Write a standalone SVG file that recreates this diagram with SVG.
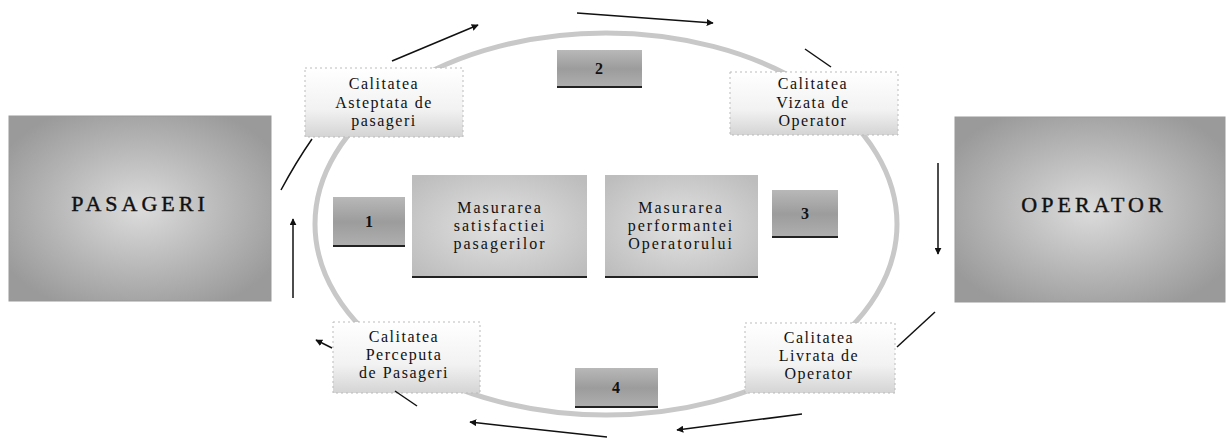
<svg xmlns="http://www.w3.org/2000/svg" width="1227" height="441" viewBox="0 0 1227 441">
<defs>
<radialGradient id="bigG" cx="50%" cy="50%" r="60%">
<stop offset="0" stop-color="#dcdcdc"/>
<stop offset="0.6" stop-color="#b4b4b4"/>
<stop offset="1" stop-color="#9a9a9a"/>
</radialGradient>
<radialGradient id="midG" cx="50%" cy="50%" r="65%">
<stop offset="0" stop-color="#e2e2e2"/>
<stop offset="1" stop-color="#bdbdbd"/>
</radialGradient>
<linearGradient id="numG" x1="0" y1="0" x2="0" y2="1">
<stop offset="0" stop-color="#b8b8b8"/>
<stop offset="0.5" stop-color="#9c9c9c"/>
<stop offset="1" stop-color="#b0b0b0"/>
</linearGradient>
<linearGradient id="labG" x1="0" y1="0" x2="0" y2="1">
<stop offset="0" stop-color="#ffffff"/>
<stop offset="0.6" stop-color="#f2f2f2"/>
<stop offset="1" stop-color="#d4d4d4"/>
</linearGradient>
<marker id="ah" viewBox="0 0 10 10" refX="9" refY="5" markerWidth="7" markerHeight="7" orient="auto" markerUnits="userSpaceOnUse">
<path d="M0,0 L10,5 L0,10 z" fill="#111"/>
</marker>
</defs>
<style>
.big{fill:url(#bigG);stroke:#999;stroke-width:1}
.mid{fill:url(#midG)}
.num{fill:url(#numG)}
.lab{fill:url(#labG);stroke:#bbb;stroke-width:1;stroke-dasharray:2 3}
.ul{stroke:#222;stroke-width:2}
.t{font-family:"Liberation Serif","Times New Roman",serif;fill:#111;text-anchor:middle}
.bt{font-size:22px;letter-spacing:4px;stroke:#111;stroke-width:0.4}
.lt{font-size:16px;letter-spacing:1.5px}
.mt{font-size:16px;letter-spacing:2px}
.nt{font-size:16px;font-weight:bold}
.c{stroke:#111;stroke-width:1.5;fill:none}
</style>
<ellipse id="ring" cx="606" cy="224" rx="291" ry="191" fill="none" stroke="#c8c8c8" stroke-width="5"/>
<g id="pasageri">
<rect class="big" x="9" y="116" width="262" height="185"/>
<text class="t bt" x="140" y="211">PASAGERI</text>
</g>
<g id="operator">
<rect class="big" x="955" y="117" width="270" height="185"/>
<text class="t bt" x="1094" y="212">OPERATOR</text>
</g>
<g id="asteptata">
<rect class="lab" x="305" y="68" width="158" height="69"/>
<text class="t lt" x="384" y="89">Calitatea</text>
<text class="t lt" x="384" y="108">Asteptata de</text>
<text class="t lt" x="384" y="126">pasageri</text>
</g>
<g id="vizata">
<rect class="lab" x="730" y="72" width="168" height="63"/>
<text class="t lt" x="813" y="89">Calitatea</text>
<text class="t lt" x="813" y="108">Vizata de</text>
<text class="t lt" x="813" y="126">Operator</text>
</g>
<g id="perceputa">
<rect class="lab" x="333" y="322" width="147" height="71"/>
<text class="t lt" x="404" y="342">Calitatea</text>
<text class="t lt" x="404" y="360">Perceputa</text>
<text class="t lt" x="404" y="378">de Pasageri</text>
</g>
<g id="livrata">
<rect class="lab" x="745" y="323" width="150" height="70"/>
<text class="t lt" x="819" y="343">Calitatea</text>
<text class="t lt" x="819" y="361">Livrata de</text>
<text class="t lt" x="819" y="379">Operator</text>
</g>
<g id="satisfactie">
<rect class="mid" x="412" y="175" width="175" height="103"/>
<line class="ul" x1="412" y1="277" x2="587" y2="277" stroke-width="1.5"/>
<text class="t mt" x="500" y="213">Masurarea</text>
<text class="t mt" x="500" y="231">satisfactiei</text>
<text class="t mt" x="500" y="249">pasagerilor</text>
</g>
<g id="performanta">
<rect class="mid" x="605" y="175" width="153" height="103"/>
<line class="ul" x1="605" y1="277" x2="758" y2="277" stroke-width="1.5"/>
<text class="t mt" x="681" y="213">Masurarea</text>
<text class="t mt" x="681" y="231">performantei</text>
<text class="t mt" x="681" y="249">Operatorului</text>
</g>
<g id="n1">
<rect class="num" x="333" y="197" width="72" height="50"/>
<line class="ul" x1="333" y1="246" x2="405" y2="246"/>
<text class="t nt" x="369" y="227">1</text>
</g>
<g id="n2">
<rect class="num" x="557" y="50" width="85" height="38"/>
<line class="ul" x1="557" y1="87" x2="642" y2="87"/>
<text class="t nt" x="599" y="74">2</text>
</g>
<g id="n3">
<rect class="num" x="772" y="190" width="66" height="48"/>
<line class="ul" x1="772" y1="237" x2="838" y2="237"/>
<text class="t nt" x="805" y="219">3</text>
</g>
<g id="n4">
<rect class="num" x="575" y="368" width="83" height="40"/>
<line class="ul" x1="575" y1="407" x2="658" y2="407"/>
<text class="t nt" x="616" y="393">4</text>
</g>
<g id="connectors">
<line class="c" x1="392" y1="61" x2="478" y2="25" marker-end="url(#ah)"/>
<line class="c" x1="577" y1="13" x2="713" y2="23" marker-end="url(#ah)"/>
<line class="c" x1="805" y1="49" x2="831" y2="67"/>
<line class="c" x1="938" y1="163" x2="938" y2="254" marker-end="url(#ah)"/>
<line class="c" x1="897" y1="347" x2="935" y2="312"/>
<line class="c" x1="802" y1="414" x2="677" y2="430" marker-end="url(#ah)"/>
<line class="c" x1="607" y1="437" x2="470" y2="422" marker-end="url(#ah)"/>
<line class="c" x1="395" y1="391" x2="417" y2="406"/>
<line class="c" x1="332" y1="348" x2="316" y2="340" marker-end="url(#ah)"/>
<line class="c" x1="293" y1="298" x2="293" y2="219" marker-end="url(#ah)"/>
<path class="c" d="M281,190 Q296,162 312,139"/>
</g>
</svg>
